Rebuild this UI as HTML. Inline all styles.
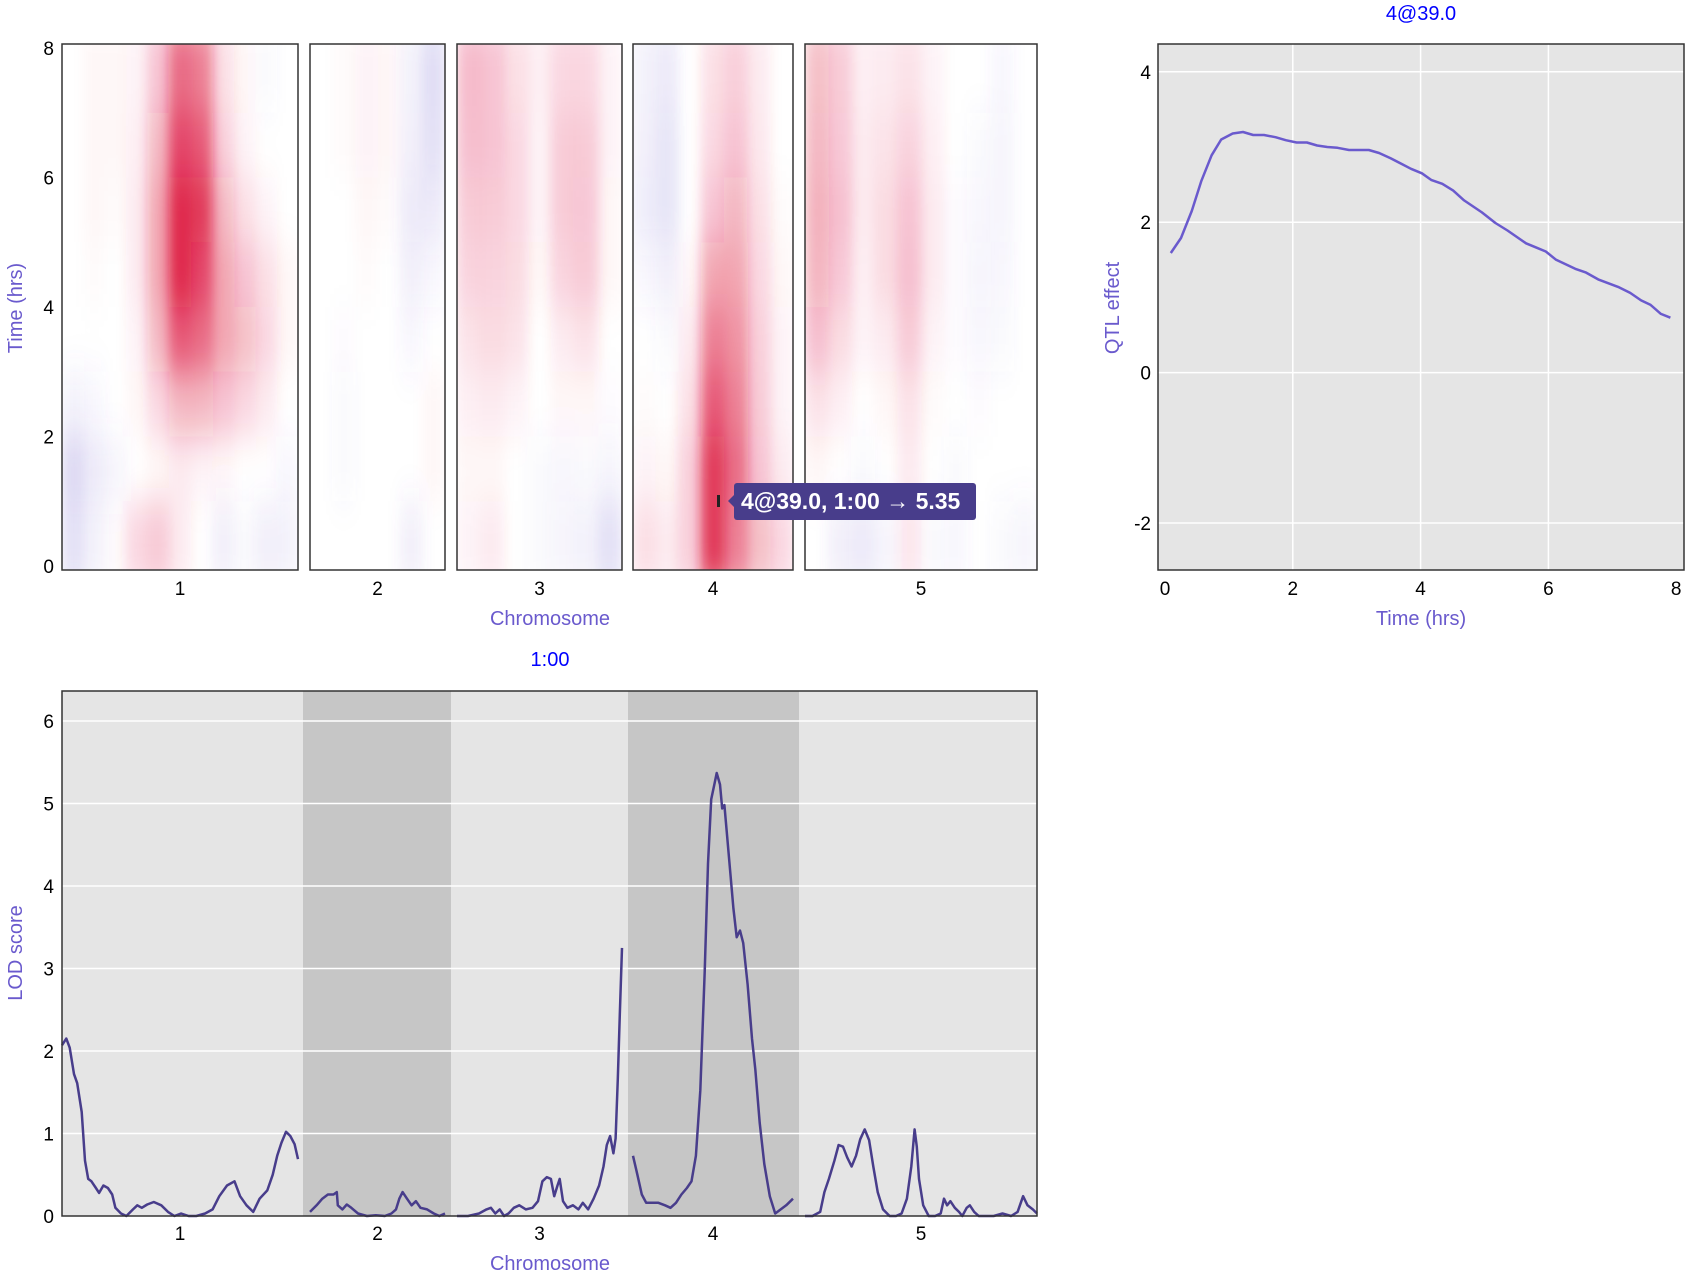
<!DOCTYPE html>
<html><head><meta charset="utf-8"><style>
body{margin:0;background:#fff;}
svg{display:block;font-family:"Liberation Sans",sans-serif;}
.tick{font-size:19px;fill:#000;}
.atitle{font-size:20px;fill:#6a5acd;}
.ptitle{font-size:20px;fill:#0000ff;}
</style></head><body>
<svg id="chart" width="1690" height="1273" viewBox="0 0 1690 1273" xmlns="http://www.w3.org/2000/svg">
<defs id="defs"></defs>
<g id="heat"></g>
<g id="eff"></g>
<g id="lod"></g>
</svg>
<script>
// ---------- data ----------
const chrNames = ["1","2","3","4","5"];
const chrLen = [110,65,75,73,105];
const timeTicks = [0,2,4,6,8];
const heatRowsT = [7.5,6.5,5.5,4.5,3.5,2.5,1.5,0.5];
const heat1 = [
[0,0.2,0.2,0.3,1.5,4,3.5,0.8,0.2,-0.2,0],
[0,0.2,0.2,0.4,2,5,4.5,1.2,0.3,0,0],
[0,0.2,0.1,0.5,2.5,6,5.5,2,0.8,0.3,0],
[0,0.1,0,0.5,2.5,6,5,2.5,1.5,0.8,0.2],
[0,0,0,0.3,2,4.5,4,2.5,1.8,1,0.2],
[-0.5,-0.3,0,0.2,1,2,2,1.5,1,0.5,0],
[-1.5,-0.8,-0.4,0,0.2,0.5,0.3,0.2,0,0,-0.3],
[-1.2,-0.5,0.1,1,1.3,0.5,0,-0.6,-0.2,-0.6,-0.5]];
const heat2 = [
[0,0.1,0.3,0.2,-0.5,-1.3],
[0,0.1,0.3,0.2,-0.6,-1.2],
[0,0,0.2,0.1,-0.8,-0.8],
[0,0,0.1,0,-0.6,-0.3],
[0,-0.1,0,0,-0.3,0],
[0,-0.2,0,0,0,0.2],
[0,-0.2,0,0,0,0.2],
[0,0,0,0,-0.6,0]];
const heat3 = [
[1.7,1.5,0.8,0.4,1,1,0.3],
[1.6,1.5,1,0.3,1.3,1.3,0.3],
[1.3,1.3,1,0.3,1.3,1.4,0.2],
[1.1,1.1,0.9,0.2,1.1,1.3,0.2],
[0.7,0.9,0.7,0,0.5,0.7,0],
[0.4,0.5,0.3,0,0.2,0.2,-0.1],
[0.2,0.2,0,-0.2,-0.3,-0.2,-0.4],
[0.3,0.5,0,-0.2,-0.4,-0.5,-1.2]];
const heat4 = [
[-0.5,-0.8,0,0.8,1.2,0.5,0],
[-0.6,-1,0,1,1.5,0.6,0],
[-0.7,-1,0,1.5,2,0.8,0.1],
[-0.3,-0.6,0.2,2.5,2.5,1,0.2],
[0,-0.2,0.5,3.5,3,1.2,0.3],
[0.1,0,0.8,4.5,3.5,1.3,0.3],
[0.3,0.2,1.2,5.5,4,1.5,0.5],
[0.8,0.5,1.2,5.5,3.5,1.8,1]];
const heat5 = [
[1.8,1.3,0.4,0.5,0.7,0.3,0,0,-0.3,0],
[2,1.4,0.5,0.7,1.1,0.4,0,-0.2,-0.4,0],
[2.2,1.6,0.5,0.9,1.5,0.5,-0.1,-0.3,-0.4,0],
[2.1,1.4,0.4,0.9,1.6,0.5,-0.1,-0.4,-0.3,0],
[1.6,0.9,0.3,0.5,1.3,0.3,-0.1,-0.3,-0.2,0],
[0.7,0.4,0,0.2,0.7,0.1,0,-0.1,0,0],
[0.2,0,-0.2,0,0.5,0,-0.2,0,0,0],
[0,-0.6,-0.8,-0.4,0.6,-0.2,-0.3,0,-0.2,-0.4]];
const heatData = [heat1,heat2,heat3,heat4,heat5];

const effTime = [0.09,0.25,0.42,0.57,0.73,0.88,1.06,1.22,1.38,1.55,1.73,1.89,2.06,2.22,2.38,2.54,2.70,2.88,3.19,3.35,3.53,3.69,3.85,4.02,4.17,4.34,4.51,4.68,4.96,5.17,5.36,5.65,5.82,5.96,6.12,6.42,6.59,6.78,7.09,7.28,7.45,7.60,7.76,7.91];
const effVal = [1.59,1.79,2.15,2.55,2.89,3.10,3.18,3.20,3.16,3.16,3.13,3.09,3.06,3.06,3.02,3.00,2.99,2.96,2.96,2.92,2.85,2.78,2.71,2.65,2.56,2.51,2.42,2.29,2.13,1.99,1.89,1.72,1.66,1.61,1.50,1.38,1.33,1.24,1.14,1.06,0.96,0.90,0.78,0.73];
const effTicksX = [0,2,4,6,8];
const effTicksY = [-2,0,2,4];

const lodPos1 = [0,2,3.6,5.6,7.1,9.2,10.7,12.2,13.7,15.8,17.3,19.3,21.4,23.4,24.9,27.5,30,33.1,35.1,37.2,39.7,42.8,46.3,49.4,52.4,55.5,59,62.6,66.7,70.2,73.3,76.9,80.4,83,86,89.1,92.1,95.7,98.2,100.3,102.3,104.4,106.4,108.4,110];
const lodVal1 = [2.07,2.15,2.04,1.72,1.61,1.26,0.67,0.45,0.42,0.34,0.28,0.37,0.34,0.26,0.10,0.03,0,0.08,0.13,0.10,0.14,0.17,0.13,0.05,0,0.03,0,0,0.03,0.08,0.24,0.37,0.42,0.24,0.13,0.05,0.21,0.31,0.5,0.73,0.89,1.02,0.97,0.87,0.69];
const lodPos2 = [0,3.2,5.9,8.6,11.3,12.9,13.4,15.6,17.7,19.9,23.1,27.4,31.7,36,39.2,41.4,43,44.6,46.7,48.9,51,53.2,56.4,59.6,62.3,65];
const lodVal2 = [0.05,0.13,0.21,0.26,0.26,0.29,0.13,0.08,0.14,0.10,0.03,0,0.01,0,0.03,0.08,0.21,0.29,0.21,0.13,0.18,0.10,0.08,0.03,0,0.03];
const lodPos3 = [0,5,10,13.4,15.4,17.4,19.4,21.4,23.4,25.8,28.3,31.3,34.3,36.8,38.8,40.8,42.7,44.2,45.7,46.7,48.2,50.2,52.7,55.2,57.2,59.6,62.1,64.6,66.6,68.1,69.6,71.1,72.1,73.1,74,75];
const lodVal3 = [0,0,0.03,0.08,0.10,0.03,0.08,0,0.03,0.10,0.13,0.08,0.10,0.18,0.42,0.47,0.45,0.24,0.37,0.45,0.18,0.10,0.13,0.08,0.16,0.08,0.21,0.37,0.60,0.86,0.97,0.76,0.94,1.66,2.44,3.25];
const lodPos4 = [0,2,4,6,8.5,11.6,14.6,17.1,19.6,22.1,24.6,26.7,28.7,30.7,32.7,34.2,35.7,37.2,38.2,39.7,40.7,41.7,42.8,44.3,45.8,47.3,48.8,50.3,52.3,54.3,55.8,57.8,59.9,62.4,64.9,67.4,69.9,73];
const lodVal4 = [0.73,0.50,0.26,0.16,0.16,0.16,0.13,0.10,0.16,0.26,0.34,0.42,0.73,1.52,2.96,4.27,5.05,5.24,5.37,5.23,4.94,4.98,4.65,4.19,3.73,3.38,3.46,3.31,2.81,2.15,1.78,1.13,0.63,0.24,0.03,0.08,0.13,0.21];
const lodPos5 = [0,3.4,6.9,8.8,10.8,13.3,15.2,17.2,19.1,21.1,23.1,25,27,29,30.9,32.9,35.3,38.3,41.2,43.7,46.1,48.1,49.6,50.6,51.6,53.5,56,58.9,61.4,62.9,64.3,65.8,67.8,69.7,71.2,73.2,74.6,76.6,78.6,81.5,85.4,89.4,93.3,96.2,98.7,100.7,103.1,105];
const lodVal5 = [0,0,0.05,0.29,0.45,0.67,0.86,0.84,0.71,0.60,0.73,0.93,1.05,0.92,0.60,0.29,0.08,0,0,0.03,0.21,0.60,1.05,0.84,0.45,0.13,0,0,0.03,0.21,0.13,0.18,0.10,0.05,0,0.10,0.13,0.05,0,0,0,0.03,0,0.05,0.24,0.13,0.08,0.03];
const lodPos = [lodPos1,lodPos2,lodPos3,lodPos4,lodPos5];
const lodVals = [lodVal1,lodVal2,lodVal3,lodVal4,lodVal5];
const lodTicks = [0,1,2,3,4,5,6];

// ---------- layout ----------
const NS="http://www.w3.org/2000/svg";
function mk(tag,attrs,parent,text){const e=document.createElementNS(NS,tag);for(const k in attrs)e.setAttribute(k,attrs[k]);if(text!==undefined)e.textContent=text;parent.appendChild(e);return e;}
const panX0=[62,310,457,633,805], panX1=[298,445,622,793,1037];
const bandX0=[62,303,451,628,799], bandX1=[303,451,628,799,1037];
function chrX(c,pos){return panX0[c]+(pos/chrLen[c])*(panX1[c]-panX0[c]);}
const hTop=44,hBot=570;
function tY(t){return 566-(t/8)*518;}
const defs=document.getElementById('defs');

// ---------- heatmap ----------
const heat=document.getElementById('heat');
for(let c=0;c<5;c++){
  const cp=mk('clipPath',{id:'cp'+c},defs);
  mk('rect',{x:panX0[c],y:hTop,width:panX1[c]-panX0[c],height:hBot-hTop},cp);
  const f=mk('filter',{id:'bl'+c,filterUnits:'userSpaceOnUse',x:panX0[c],y:hTop,width:panX1[c]-panX0[c],height:hBot-hTop},defs);
  mk('feGaussianBlur',{stdDeviation:'6 20',edgeMode:'duplicate'},f);
  const outer=mk('g',{'clip-path':'url(#cp'+c+')'},heat);
  
  
  mk('rect',{x:panX0[c],y:hTop,width:panX1[c]-panX0[c],height:hBot-hTop,fill:'#fff'},outer);
  const g=mk('g',{filter:'url(#bl'+c+')'},outer);
  const data=heatData[c], nC=data[0].length, w=(panX1[c]-panX0[c])/nC;
  for(let r=0;r<data.length;r++){
    const t=heatRowsT[r];
    let y0=tY(t+0.5), y1=tY(t-0.5);
    if(r===0)y0=hTop-20; if(r===data.length-1)y1=hBot+20;
    for(let k=0;k<nC;k++){
      const v=data[r][k];
      const col=v>=0?'220,20,60':'106,90,205';
      const a=Math.min(1,Math.abs(v)/6.5);
      const cell=mk('rect',{x:panX0[c]+k*w-0.5,y:y0,width:w+1,height:y1-y0,fill:'rgba('+col+','+a.toFixed(3)+')'},g);
      
      
    }
  }
  const b=mk('rect',{x:panX0[c],y:hTop,width:panX1[c]-panX0[c],height:hBot-hTop,fill:'none',stroke:'#333','stroke-width':1.5},heat);
  
  
  const lb=mk('text',{x:(panX0[c]+panX1[c])/2,y:595,'text-anchor':'middle',class:'tick'},heat,chrNames[c]);
  
  
}
timeTicks.forEach(t=>{const e=mk('text',{x:54,y:tY(t)+7,'text-anchor':'end',class:'tick'},heat,String(t));
  });
(function(){
 let e=mk('text',{x:550,y:625,'text-anchor':'middle',class:'atitle'},heat,'Chromosome');
 
 e=mk('text',{x:0,y:0,'text-anchor':'middle',class:'atitle',transform:'translate(22,308) rotate(-90)'},heat,'Time (hrs)');
 
 const tg=mk('g',{},heat);
 
 mk('rect',{x:717,y:495,width:3,height:12,fill:'#222'},tg);
 mk('path',{d:'M728 501 L736 493 L736 509 Z',fill:'#483d8b'},tg);
 mk('rect',{x:734,y:483,width:242,height:37,rx:3,fill:'#483d8b'},tg);
 mk('text',{x:741,y:509,'font-size':'23px','font-weight':'bold',fill:'#fff'},tg,'4@39.0, 1:00 \u2192 5.35');
})();

// ---------- effect plot ----------
const eff=document.getElementById('eff');
const eL=1158,eR=1684,eT=44,eB=570;
function ex(t){return 1165+t*63.9;}
function ey(v){return 372.6-v*75.2;}
(function(){
 let e=mk('rect',{x:eL,y:eT,width:eR-eL,height:eB-eT,fill:'#e5e5e5'},eff);
 
 effTicksX.forEach(t=>{ if(t>0&&t<8) mk('line',{x1:ex(t),x2:ex(t),y1:eT,y2:eB,stroke:'#fff','stroke-width':1.5},eff);
   const l=mk('text',{x:ex(t),y:595,'text-anchor':'middle',class:'tick'},eff,String(t));
   });
 effTicksY.forEach(v=>{ mk('line',{x1:eL,x2:eR,y1:ey(v),y2:ey(v),stroke:'#fff','stroke-width':1.5},eff);
   const l=mk('text',{x:1151,y:ey(v)+7,'text-anchor':'end',class:'tick'},eff,String(v));
   });
 const d=effTime.map((t,i)=>(i?'L':'M')+ex(t).toFixed(1)+' '+ey(effVal[i]).toFixed(1)).join(' ');
 e=mk('path',{d:d,fill:'none',stroke:'#6a5acd','stroke-width':2.5,'stroke-linejoin':'round'},eff);
 
 e=mk('rect',{x:eL,y:eT,width:eR-eL,height:eB-eT,fill:'none',stroke:'#333','stroke-width':1.5},eff);
 
 e=mk('text',{x:1421,y:20,'text-anchor':'middle',class:'ptitle'},eff,'4@39.0');
 
 e=mk('text',{x:1421,y:625,'text-anchor':'middle',class:'atitle'},eff,'Time (hrs)');
 
 e=mk('text',{x:0,y:0,'text-anchor':'middle',class:'atitle',transform:'translate(1119,308) rotate(-90)'},eff,'QTL effect');
 
})();

// ---------- LOD plot ----------
const lod=document.getElementById('lod');
const lT=691,lB=1216,lL=62,lR=1037;
function ly(v){return 1216-v*82.5;}
(function(){
 for(let c=0;c<5;c++){
   const r=mk('rect',{x:bandX0[c],y:lT,width:bandX1[c]-bandX0[c],height:lB-lT,fill:c%2?'#c6c6c6':'#e5e5e5'},lod);
   
   const l=mk('text',{x:(panX0[c]+panX1[c])/2,y:1240,'text-anchor':'middle',class:'tick'},lod,chrNames[c]);
   
 }
 lodTicks.forEach(v=>{ if(v>0) mk('line',{x1:lL,x2:lR,y1:ly(v),y2:ly(v),stroke:'#fff','stroke-width':1.5},lod);
   const l=mk('text',{x:54,y:ly(v)+7,'text-anchor':'end',class:'tick'},lod,String(v));
   });
 for(let c=0;c<5;c++){
   const d=lodPos[c].map((p,i)=>(i?'L':'M')+chrX(c,p).toFixed(1)+' '+ly(lodVals[c][i]).toFixed(1)).join(' ');
   const p=mk('path',{d:d,fill:'none',stroke:'#483d8b','stroke-width':2.5,'stroke-linejoin':'round'},lod);
   
 }
 let e=mk('rect',{x:lL,y:lT,width:lR-lL,height:lB-lT,fill:'none',stroke:'#333','stroke-width':1.5},lod);
 
 e=mk('text',{x:550,y:666,'text-anchor':'middle',class:'ptitle'},lod,'1:00');
 
 e=mk('text',{x:550,y:1270,'text-anchor':'middle',class:'atitle'},lod,'Chromosome');
 
 e=mk('text',{x:0,y:0,'text-anchor':'middle',class:'atitle',transform:'translate(22,953) rotate(-90)'},lod,'LOD score');
 
})();
</script>
</body></html>
